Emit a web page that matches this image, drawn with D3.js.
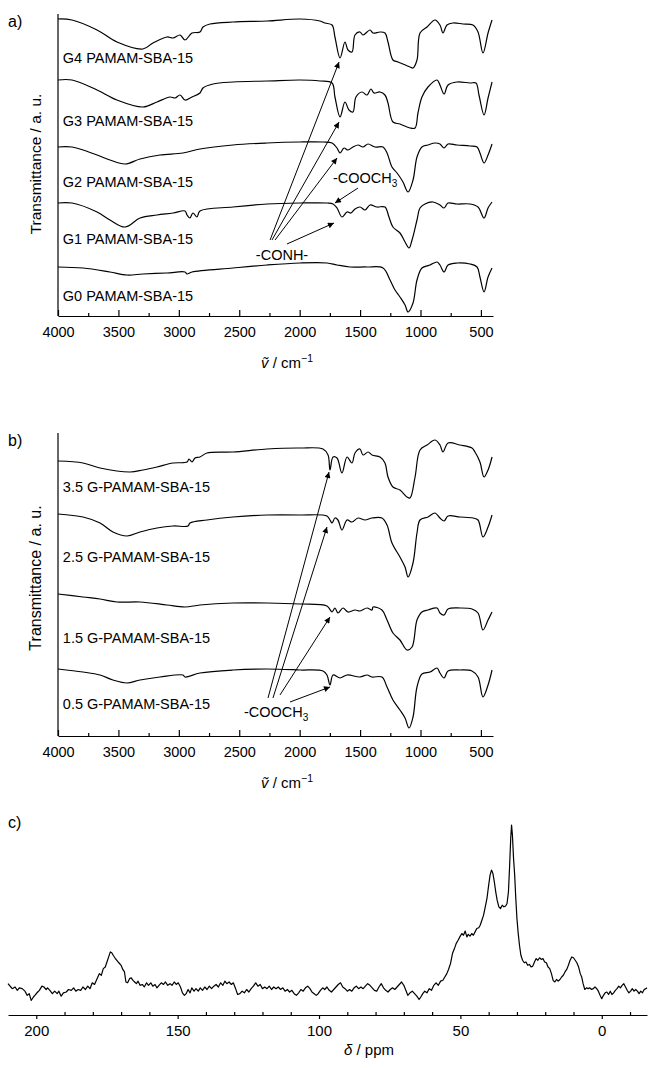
<!DOCTYPE html>
<html lang="en">
<head>
<meta charset="UTF-8">
<title>FTIR and 13C NMR of PAMAM-SBA-15</title>
<script src="https://d3js.org/d3.v7.min.js"></script>
<style>
    body { margin: 0; background: #fff; }
    svg { display: block; font-family: "Liberation Sans", Arial, sans-serif; }
    .spec { fill: none; stroke: #000; stroke-width: 1.2; stroke-linejoin: round; }
    .axis path, .axis line { stroke: #000; stroke-width: 1.2; }
    .axis text { font-size: 14.5px; fill: #000; font-family: "Liberation Sans", Arial, sans-serif; }
    .ylab { font-size: 15.5px; }
    .series { font-size: 14.5px; }
    .note { font-size: 14.5px; }
    .panel { font-size: 16px; }
    .arrow { stroke: #000; stroke-width: 1; }
</style>
</head>
<body>
<div id="chart"></div>
<script>
// ---- panel a) FTIR of G0-G4 PAMAM-SBA-15, [wavenumber, transmittance a.u.]
const g4 = [[4000,297],[3884,296],[3677,286],[3512,274],[3297,267],[3214,273],[3098,279],[3048,278],[2990,281],[2949,276],[2891,283],[2825,284],[2800,289],[2742,292],[2552,294],[2270,295],[1997,297],[1832,295],[1790,293],[1732,291],[1708,279],[1666,258],[1625,274],[1600,266],[1567,264],[1542,281],[1501,284],[1476,281],[1418,286],[1393,283],[1335,284],[1294,283],[1269,274],[1228,256],[1186,254],[1087,249],[1062,248],[1029,256],[1004,283],[946,289],[880,296],[839,291],[814,283],[781,291],[731,293],[648,292],[566,291],[524,284],[483,263],[441,283],[408,296]];
const g3 = [[4000,236],[3884,236],[3677,226],[3512,216],[3297,209],[3181,214],[3073,219],[3032,218],[2990,221],[2949,216],[2891,219],[2825,223],[2800,228],[2717,232],[2552,234],[2270,235],[1997,236],[1832,235],[1732,233],[1708,219],[1666,199],[1625,214],[1592,206],[1559,204],[1534,219],[1484,224],[1443,221],[1410,227],[1385,223],[1335,224],[1294,221],[1269,213],[1228,194],[1170,192],[1087,188],[1045,188],[1021,203],[988,219],[938,229],[863,236],[839,231],[805,222],[772,231],[698,234],[590,233],[541,233],[516,221],[474,201],[441,218],[408,234]];
const g2 = [[4000,169],[3884,169],[3677,161],[3570,156],[3445,152],[3321,157],[3156,161],[2966,163],[2825,167],[2552,171],[2270,173],[1997,174],[1807,174],[1732,173],[1691,168],[1666,163],[1633,168],[1600,166],[1559,169],[1517,171],[1476,169],[1434,172],[1377,169],[1310,169],[1277,163],[1236,149],[1194,143],[1145,134],[1103,124],[1062,136],[1029,159],[988,169],[938,171],[880,173],[839,172],[805,168],[772,172],[698,171],[590,170],[532,169],[508,163],[474,153],[441,161],[408,172]];
const g1 = [[4000,113],[3884,113],[3677,104],[3570,96],[3445,89],[3321,98],[3181,101],[3048,103],[2949,105],[2932,101],[2908,98],[2883,103],[2850,99],[2825,105],[2552,109],[2270,112],[1997,113],[1774,113],[1724,112],[1691,108],[1650,99],[1608,104],[1575,103],[1542,107],[1501,109],[1459,106],[1418,111],[1360,109],[1294,109],[1261,99],[1228,89],[1170,83],[1128,74],[1095,68],[1070,76],[1029,96],[1004,108],[963,112],[897,114],[839,111],[805,108],[772,113],[698,112],[590,112],[524,109],[474,98],[441,108],[408,114]];
const g0 = [[4000,49],[3793,48],[3570,44],[3429,41],[3297,42],[3098,43],[2949,44],[2932,42],[2891,44],[2552,48],[2270,51],[1997,53],[1774,53],[1691,51],[1583,49],[1443,49],[1310,48],[1252,36],[1211,26],[1170,19],[1128,11],[1103,4],[1062,13],[1029,36],[988,48],[921,51],[863,54],[839,51],[805,44],[772,51],[698,53],[590,52],[532,49],[508,39],[474,24],[441,39],[408,48]];
const namesA = ["G4 PAMAM-SBA-15", "G3 PAMAM-SBA-15", "G2 PAMAM-SBA-15", "G1 PAMAM-SBA-15", "G0 PAMAM-SBA-15"];
const labelLevelA = [258, 195, 134, 77, 20];
// arrows: [from wavenumber, from a.u., to wavenumber, to a.u.]
const conhArrows = [[2245,76,1674,254],[2229,76,1674,194],[2204,76,1691,158],[2105,72,1716,93]];
const esterArrowA = [[1517,128,1708,113]];
const conhLabel = [2146, 61];
const esterLabelA = [1724, 138];

// ---- panel b) FTIR of half generations
const h35 = [[4000,275],[3793,273],[3652,268],[3404,264],[3297,266],[3181,269],[3048,273],[2932,274],[2916,277],[2891,274],[2866,278],[2825,279],[2767,283],[2552,284],[2270,287],[1997,288],[1807,287],[1765,281],[1749,266],[1724,279],[1691,278],[1650,263],[1608,279],[1567,273],[1542,283],[1501,287],[1476,281],[1434,284],[1401,281],[1335,279],[1294,273],[1269,259],[1228,249],[1170,246],[1112,239],[1087,238],[1045,259],[1004,286],[946,291],[880,296],[839,291],[814,284],[772,293],[673,291],[574,288],[549,284],[508,274],[474,259],[441,266],[408,279]];
const h25 = [[4000,222],[3793,219],[3652,213],[3545,204],[3429,200],[3321,204],[3181,208],[3048,210],[2924,210],[2908,213],[2767,216],[2552,219],[2270,221],[1997,221],[1774,220],[1749,216],[1732,213],[1708,218],[1683,216],[1650,206],[1608,216],[1567,214],[1517,218],[1459,216],[1401,218],[1319,218],[1277,211],[1236,193],[1170,179],[1128,169],[1103,159],[1062,173],[1029,203],[1004,216],[938,219],[880,223],[839,218],[805,215],[772,220],[673,219],[566,218],[524,216],[483,199],[441,209],[408,221]];
const h15 = [[4000,142],[3793,139],[3652,137],[3512,134],[3321,134],[3098,131],[2949,129],[2825,131],[2552,133],[2270,133],[1997,132],[1774,130],[1732,124],[1708,128],[1683,123],[1641,128],[1600,124],[1542,126],[1501,125],[1443,128],[1401,126],[1393,129],[1319,126],[1277,116],[1228,103],[1170,96],[1112,86],[1070,89],[1029,116],[988,124],[938,126],[863,128],[839,123],[805,121],[772,127],[673,128],[574,127],[524,123],[483,106],[441,116],[408,124]];
const h05 = [[4000,67],[3793,64],[3652,61],[3545,56],[3429,53],[3321,56],[3156,59],[2966,61],[2949,59],[2825,63],[2552,66],[2270,67],[1997,66],[1807,65],[1774,61],[1749,51],[1724,61],[1666,58],[1608,61],[1501,59],[1443,61],[1401,59],[1319,59],[1277,49],[1228,36],[1170,26],[1128,18],[1095,8],[1062,19],[1029,49],[988,62],[921,64],[863,68],[839,63],[805,58],[772,65],[673,66],[574,65],[524,59],[483,39],[441,51],[408,66]];
const namesB = ["3.5 G-PAMAM-SBA-15", "2.5 G-PAMAM-SBA-15", "1.5 G-PAMAM-SBA-15", "0.5 G-PAMAM-SBA-15"];
const labelLevelB = [249, 179, 98, 32];
const esterArrowsB = [[2262,38,1757,264],[2221,38,1774,209],[2163,41,1749,119],[2080,34,1749,49]];
const esterLabelB = [2461, 24];

const wnMajor = [4000, 3500, 3000, 2500, 2000, 1500, 1000, 500];
const wnMinor = [3750, 3250, 2750, 2250, 1750, 1250, 750];

// ---- panel c) 13C CP-MAS NMR, chemical shift (ppm) and intensity (a.u.)
const nmrShift = [210,209,208.5,207.5,206.7,206,205,204,203.2,202.5,201.8,201,200.5,199.5,198.9,198,197.3,196.5,196,195.2,194.3,193.5,192.6,192,191.2,190.4,189.4,188.6,187.6,186.8,186,185.2,184.3,183.5,182.6,181.8,181,180.2,179.4,178.5,177.7,177,176.3,175.6,175,174.4,173.8,173.3,172.8,172.2,171.5,170.8,170,169.4,168.8,168.3,167.7,167,166.4,165.8,165.2,164.6,164,163.3,162.5,161.8,161,160.3,159.5,158.8,158,157.3,156.6,155.8,155,154.3,153.5,152.7,152,151.2,150.5,149.8,149,148.3,147.6,147,146.3,145.6,145,144.2,143.5,142.7,142,141.2,140.4,139.6,138.8,138,137.2,136.4,135.6,134.8,134,133.3,132.6,131.8,131,130.3,129.5,128.8,128,127.2,126.4,125.6,124.8,124,123.2,122.4,121.6,120.8,120,119.2,118.4,117.6,116.8,116,115.2,114.4,113.6,112.8,112,111.2,110.4,109.6,108.8,108,107.2,106.4,105.6,104.8,104,103.2,102.5,101.7,101,100.3,99.5,98.7,98,97.2,96.4,95.6,94.8,94,93.2,92.4,91.6,90.8,90,89.2,88.4,87.6,86.8,86,85.2,84.4,83.6,82.8,82,81.2,80.4,79.6,78.8,78,77.2,76.4,75.6,74.8,74,73.2,72.4,71.6,70.8,70,69.3,68.6,67.8,67,66.2,65.4,64.6,64,63.3,62.6,61.8,61,60.2,59.4,58.6,57.8,57,56.2,55.5,54.8,54.2,53.5,52.8,52.1,51.5,50.8,50.2,49.5,48.9,48.3,47.7,47.2,46.6,46,45.4,44.8,44.2,43.5,43,42.4,41.8,41.2,40.6,40,39.5,39,38.5,38,37.5,37,36.4,35.8,35.2,34.6,34,33.5,33,32.6,32.2,31.9,31.6,31.2,30.8,30.4,30,29.6,29.1,28.6,28,27.4,26.8,26.2,25.6,25,24.4,23.8,23.2,22.6,22,21.4,20.8,20.2,19.6,19,18.4,17.8,17.2,16.6,16,15.4,14.8,14.2,13.6,13,12.4,11.8,11.2,10.6,10,9.4,8.8,8.2,7.6,7.1,6.6,6,5.4,4.8,4.2,3.6,3,2.4,1.8,1.2,0.6,0,-0.6,-1.2,-1.8,-2.4,-3,-3.6,-4.2,-4.8,-5.4,-6,-6.6,-7.2,-7.8,-8.4,-9,-9.6,-10.2,-10.8,-11.4,-12,-12.6,-13.2,-13.8,-14.4,-15,-15.6,-16];
const nmrIntensity = [5,3,2,3,1,2.5,2,0.5,-2,-1,-5,-3,-2,0,1,3.5,3,1.5,2.5,1,-1,0.5,-1,0.5,-2.5,-0.5,0,1.5,1,2.5,0.5,1.5,1,3,1.5,3.5,2,5.5,4.5,8,11,10,14,15,18,21,24,23.5,22,20.5,19,17.5,16,13.5,12,6,5.5,8,8.5,7,6,5,6.5,4,4.5,3,5.5,4,5.5,3.5,4.5,2.5,4,5.5,4.5,6,4,5,4,6,4.5,5.5,3,-0.5,-2,-1,1.5,-0.5,2.5,0.5,2,0.5,2.5,1,3,1.5,3.5,2,3.5,4.5,3,5.5,4,6.5,5,6,4.5,5.5,2,-1.5,-1,0.5,-0.5,1.5,0,2,3.5,5.5,3.5,4.5,2,3,2,3.5,1.5,3,2,3,1.5,2.5,0.5,1.5,0,1,-1,-2,-0.5,1.5,0.5,2.5,3.5,2,0,-1,-2,-1,1,2.5,1.5,3,1,0,1.5,3,4.5,5.5,3,2,0.5,1.5,0.5,2.5,3.5,2,3,2,3.5,5,4,2.5,1,0.5,3,5,2.5,1,0,1.5,2.5,1.5,3,4.5,6,4,1,-2,-0.5,0.5,-1,-2.5,-4.5,-3,-1,0.5,-0.5,2,1,4,5.5,4,6.5,7,9,11,13.5,17,23,26,29,31,33,35,34,36.5,33,34.5,33.5,35,34,36,38,38.5,40,43,46,51,56,64,70,73,71,66,60,55,51,50,52,51,51.5,53,60,75,92,100,94,80,70,56,44,36,28,22,19,17.5,18,16,16.5,15,15.5,18,20,19,20.5,19.5,20,18,17.5,15,14,11,7,6,7.5,6.5,7.5,9,10,12,13.5,16,19,21,20.5,19,17.5,15,11,9,5,1.5,2.5,2,2.5,1.5,2,3,2,0.5,-2,-4,-2,-0.5,0,-1.5,0.5,-1.5,-0.5,1,2,3.5,2.5,4,5,3,1,-0.5,0.5,2,0.5,1.5,0.5,-1,0.5,-0.5,1.5,2,2.5];
const ppmMajor = [200, 150, 100, 50, 0];
const ppmMinor = [190, 180, 170, 160, 140, 130, 120, 110, 90, 80, 70, 60, 40, 30, 20, 10, -10];

const W = 648, H = 1068;
const svg = d3.select("#chart").append("svg")
    .attr("width", W)
    .attr("height", H);

svg.append("defs").append("marker")
    .attr("id", "head")
    .attr("viewBox", "0 0 10 10")
    .attr("refX", 10).attr("refY", 5)
    .attr("markerUnits", "userSpaceOnUse")
    .attr("markerWidth", 9).attr("markerHeight", 6)
    .attr("orient", "auto")
    .append("path")
    .attr("d", "M0,0L10,5L0,10Z")
    .attr("fill", "#000");

const xIR = d3.scaleLinear().domain([4000, 400]).range([58, 493]);

function wavenumberLabel(g, cy) {
    const t = g.append("text")
        .attr("x", 287).attr("y", cy)
        .attr("text-anchor", "middle")
        .style("font-size", "15px");
    t.append("tspan").style("font-style", "italic").text("v\u0303");
    t.append("tspan").text(" / cm");
    t.append("tspan").attr("dy", -6).style("font-size", "10.5px").text("\u22121");
}

function ftirPanel(top, bottom, series, names, levels, tag, ylabMid, ylabSize) {
    const y = d3.scaleLinear().domain([0, bottom - top]).range([bottom, top]);
    const g = svg.append("g");

    const line = d3.line()
        .x(d => xIR(d[0]))
        .y(d => y(d[1]))
        .curve(d3.curveCatmullRom.alpha(0.5));

    g.selectAll("path.spec")
        .data(series)
        .enter().append("path")
        .attr("class", "spec")
        .attr("d", line);

    g.selectAll("text.series")
        .data(names)
        .enter().append("text")
        .attr("class", "series")
        .attr("x", xIR(3960))
        .attr("y", (d, i) => y(levels[i]))
        .attr("dy", "0.35em")
        .text(d => d);

    // y axis (no ticks)
    g.append("line")
        .attr("x1", xIR(4000)).attr("x2", xIR(4000))
        .attr("y1", top).attr("y2", bottom)
        .attr("stroke", "#000").attr("stroke-width", 1.2);

    g.append("g")
        .attr("class", "axis")
        .attr("transform", `translate(0,${bottom})`)
        .call(d3.axisBottom(xIR).tickValues(wnMajor).tickSize(-6).tickSizeOuter(0).tickPadding(11).tickFormat(d3.format("d")));

    g.append("g")
        .attr("class", "axis")
        .attr("transform", `translate(0,${bottom})`)
        .call(d3.axisBottom(xIR).tickValues(wnMinor).tickSize(-3).tickSizeOuter(0).tickFormat(""))
        .select(".domain").remove();

    g.append("text")
        .attr("class", "ylab")
        .style("font-size", ylabSize)
        .attr("text-anchor", "middle")
        .attr("transform", `translate(41,${ylabMid}) rotate(-90)`)
        .text("Transmittance / a. u.");

    g.append("text")
        .attr("class", "panel")
        .attr("x", 8).attr("y", top + 13)
        .text(tag);

    wavenumberLabel(g, bottom + 52);
    return {g, y};
}

function drawArrows(g, y, list) {
    g.selectAll(null)
        .data(list)
        .enter().append("line")
        .attr("class", "arrow")
        .attr("x1", d => xIR(d[0])).attr("y1", d => y(d[1]))
        .attr("x2", d => xIR(d[2])).attr("y2", d => y(d[3]))
        .attr("marker-end", "url(#head)");
}

function esterText(g, x, yy) {
    const t = g.append("text").attr("class", "note").attr("x", x).attr("y", yy).attr("dy", "0.35em");
    t.append("tspan").text("-COOCH");
    t.append("tspan").attr("dy", 4).style("font-size", "10px").text("3");
}

// panel a
const pa = ftirPanel(14, 316, [g4, g3, g2, g1, g0], namesA, labelLevelA, "a)", 164, "15.5px");
drawArrows(pa.g, pa.y, conhArrows);
drawArrows(pa.g, pa.y, esterArrowA);
pa.g.append("text").attr("class", "note")
    .attr("x", xIR(conhLabel[0])).attr("y", pa.y(conhLabel[1]))
    .attr("dy", "0.35em").attr("text-anchor", "middle")
    .text("-CONH-");
esterText(pa.g, xIR(esterLabelA[0]), pa.y(esterLabelA[1]));

// panel b
const pb = ftirPanel(433, 736, [h35, h25, h15, h05], namesB, labelLevelB, "b)", 578, "16px");
drawArrows(pb.g, pb.y, esterArrowsB);
esterText(pb.g, xIR(esterLabelB[0]), pb.y(esterLabelB[1]));

// panel c
const xC = d3.scaleLinear().domain([210, -16]).range([8, 647]);
const yC = d3.scaleLinear().domain([0, 100]).range([992, 825]);
const gc = svg.append("g");

gc.append("path")
    .datum(nmrShift.map((s, i) => [s, nmrIntensity[i]]))
    .attr("class", "spec")
    .attr("stroke-width", 1.1)
    .attr("d", d3.line().x(d => xC(d[0])).y(d => yC(d[1])));

gc.append("g")
    .attr("class", "axis")
    .attr("transform", "translate(0,1015)")
    .call(d3.axisBottom(xC).tickValues(ppmMajor).tickSize(4).tickSizeOuter(0).tickPadding(6).tickFormat(d3.format("d")))
    .selectAll("text").style("font-size", "15px");

gc.append("g")
    .attr("class", "axis")
    .attr("transform", "translate(0,1015)")
    .call(d3.axisBottom(xC).tickValues(ppmMinor).tickSize(-3).tickSizeOuter(0).tickFormat(""))
    .select(".domain").remove();

const dl = gc.append("text")
    .attr("x", 369).attr("y", 1055)
    .attr("text-anchor", "middle")
    .style("font-size", "15px");
dl.append("tspan").style("font-style", "italic").text("\u03b4");
dl.append("tspan").text(" / ppm");

gc.append("text").attr("class", "panel").attr("x", 8).attr("y", 828).text("c)");
</script>
</body>
</html>
